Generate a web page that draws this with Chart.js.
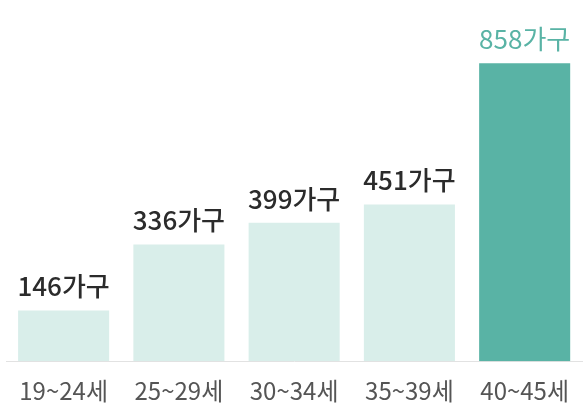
<!DOCTYPE html>
<html>
<head>
<meta charset="utf-8">
<script src="https://cdn.jsdelivr.net/npm/chart.js@4"></script>
<style>
  html, body { margin: 0; padding: 0; background: #fff; }
  #wrap { width: 584px; height: 405px; }
</style>
</head>
<body>
<div id="wrap"><canvas id="houseChart"></canvas></div>
<script>
const ageGroups = ["19~24세", "25~29세", "30~34세", "35~39세", "40~45세"];
const households = [146, 336, 399, 451, 858];
const unit = "가구";
const highlightIndex = 4;

const FONT = "'Noto Sans CJK KR', 'Noto Sans', sans-serif";
const lightColor = "#d9eeea";
const mainColor = "#59b3a5";

// value labels above each bar
const valueLabels = {
  id: "valueLabels",
  afterDatasetsDraw(chart) {
    const ctx = chart.ctx;
    const meta = chart.getDatasetMeta(0);
    ctx.save();
    ctx.textAlign = "center";
    ctx.textBaseline = "bottom";
    meta.data.forEach((bar, i) => {
      const hi = i === highlightIndex;
      ctx.font = (hi ? "400 " : "500 ") + "26px " + FONT;
      ctx.fillStyle = hi ? mainColor : "#2b2b2b";
      ctx.fillText(households[i] + unit, bar.x, bar.y - 11);
    });
    ctx.restore();
  }
};

const ctx = document.getElementById("houseChart").getContext("2d");
new Chart(ctx, {
  type: "bar",
  data: {
    labels: ageGroups,
    datasets: [{
      data: households,
      backgroundColor: households.map((v, i) => i === highlightIndex ? mainColor : lightColor),
      borderWidth: 0,
      barPercentage: 0.79,
      categoryPercentage: 1
    }]
  },
  options: {
    responsive: true,
    maintainAspectRatio: false,
    animation: false,
    layout: { padding: { left: 6, right: 0, top: 14, bottom: -15 } },
    plugins: {
      legend: { display: false },
      tooltip: { enabled: false }
    },
    scales: {
      x: {
        grid: { display: false, drawTicks: false },
        border: { display: true, color: "#e2e2e2", width: 1 },
        ticks: {
          color: "#555",
          padding: 15,
          font: { family: FONT, size: 24 }
        }
      },
      y: {
        display: false,
        min: 0,
        max: 1000
      }
    }
  },
  plugins: [valueLabels]
});
</script>
</body>
</html>
